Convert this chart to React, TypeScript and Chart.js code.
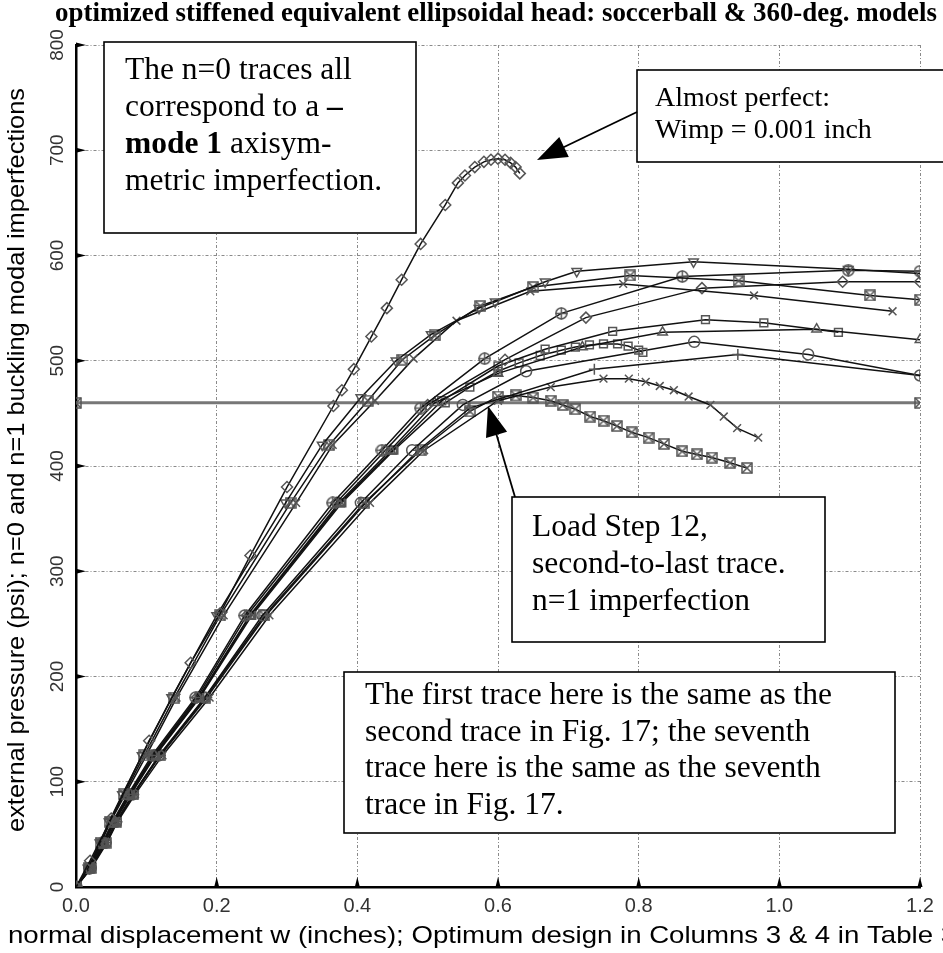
import { useEffect, useRef } from 'react';
import { Chart, registerables } from 'chart.js';

Chart.register(...registerables);

type Pt = [number, number];

const xTicks = [0, 0.2, 0.4, 0.6, 0.8, 1.0, 1.2];
const yTicks = [0, 100, 200, 300, 400, 500, 600, 700, 800];

const titleText = 'optimized stiffened equivalent ellipsoidal head: soccerball & 360-deg. models';
const xTitle = 'normal displacement w (inches); Optimum design in Columns 3 & 4 in Table 3';
const yTitle = 'external pressure (psi); n=0 and n=1 buckling modal imperfections';

// n=0 "almost perfect" trace
const diamondN0: Pt[] = [[0,0],[0.02,25],[0.05,65],[0.104,139],[0.163,213],[0.205,260],[0.248,315],[0.3,380],[0.366,457],[0.378,472],[0.395,492],[0.42,523],[0.442,550],[0.463,577],[0.49,611],[0.525,648],[0.543,669],[0.553,676],[0.567,684],[0.58,689],[0.59,691],[0.6,692],[0.61,691],[0.618,688],[0.625,684],[0.631,678]];
// upper group
const triDownU: Pt[] = [[0,0],[0.017,18],[0.034,42],[0.047,62],[0.066,88],[0.094,125],[0.136,180],[0.2,258],[0.298,365],[0.35,420],[0.405,465],[0.455,500],[0.505,525],[0.573,550],[0.596,556],[0.667,575],[0.712,585],[0.878,594],[1.098,587],[1.2,583]];
const squareXU: Pt[] = [[0,0],[0.018,18],[0.035,42],[0.048,62],[0.068,88],[0.097,125],[0.14,180],[0.205,258],[0.305,365],[0.36,420],[0.415,462],[0.464,501],[0.51,524],[0.575,552],[0.65,570],[0.788,581],[0.942,576],[1.129,562],[1.2,558]];
const crossU: Pt[] = [[0,0],[0.018,18],[0.036,42],[0.049,62],[0.07,88],[0.1,125],[0.143,180],[0.21,258],[0.313,365],[0.365,420],[0.425,462],[0.48,502],[0.541,538],[0.646,566],[0.778,573],[0.964,562],[1.161,547]];
// middle group
const circlePlusM: Pt[] = [[0,0],[0.019,18],[0.038,42],[0.052,62],[0.074,88],[0.108,125],[0.17,180],[0.24,258],[0.365,365],[0.435,415],[0.49,455],[0.581,502],[0.69,545],[0.862,580],[1.098,586],[1.2,585]];
const diamondM: Pt[] = [[0,0],[0.019,18],[0.038,42],[0.053,62],[0.075,88],[0.11,125],[0.172,180],[0.243,258],[0.37,365],[0.44,415],[0.5,458],[0.61,501],[0.725,541],[0.89,569],[1.09,575],[1.2,575]];
const triM: Pt[] = [[0,0],[0.02,18],[0.039,42],[0.054,62],[0.076,88],[0.111,125],[0.174,180],[0.247,258],[0.374,365],[0.447,415],[0.51,460],[0.6,488],[0.72,513],[0.834,527],[1.053,530],[1.2,520]];
const squareM: Pt[] = [[0,0],[0.02,18],[0.039,42],[0.054,62],[0.077,88],[0.112,125],[0.175,180],[0.248,258],[0.376,365],[0.45,415],[0.52,462],[0.6,495],[0.667,511],[0.763,528],[0.895,539],[0.978,536],[1.084,527]];
const denseSquareM: Pt[] = [[0,0],[0.02,18],[0.04,42],[0.055,62],[0.078,88],[0.113,125],[0.176,180],[0.25,258],[0.378,365],[0.452,415],[0.525,460],[0.56,475],[0.6,490],[0.63,498],[0.66,505],[0.69,510],[0.71,513],[0.73,515],[0.75,516],[0.77,516],[0.785,514],[0.8,510],[0.806,508]];
// lower group
const circleL: Pt[] = [[0,0],[0.021,18],[0.042,42],[0.057,62],[0.081,88],[0.118,125],[0.183,180],[0.265,258],[0.405,365],[0.478,415],[0.55,458],[0.64,490],[0.879,518],[1.041,506],[1.2,486]];
const plusL: Pt[] = [[0,0],[0.021,18],[0.043,42],[0.058,62],[0.082,88],[0.12,125],[0.186,180],[0.27,258],[0.412,365],[0.487,415],[0.56,455],[0.737,492],[0.941,506],[1.2,486]];
const crossL: Pt[] = [[0,0],[0.022,18],[0.044,42],[0.059,62],[0.084,88],[0.123,125],[0.19,180],[0.275,258],[0.418,365],[0.495,415],[0.6,462],[0.675,475],[0.75,483],[0.786,483],[0.81,480],[0.83,476],[0.85,472],[0.871,466],[0.902,458],[0.921,447],[0.94,436],[0.97,427]];
const squareXL: Pt[] = [[0,0],[0.021,18],[0.042,42],[0.057,62],[0.081,88],[0.119,125],[0.184,180],[0.268,258],[0.41,365],[0.49,415],[0.56,452],[0.6,466],[0.625,467],[0.65,465],[0.675,462],[0.692,458],[0.71,454],[0.731,447],[0.75,443],[0.769,438],[0.79,432],[0.814,427],[0.836,421],[0.862,414],[0.883,411],[0.904,408],[0.93,403],[0.954,398]];
// horizontal reference line
const refLine: Pt[] = [[0,460],[1.2,460]];

const serif = '"Liberation Serif", "Times New Roman", serif';
const sans = '"Liberation Sans", Arial, sans-serif';

function makeMarker(kind: string, size: number, color: string) {
  const c = document.createElement('canvas');
  c.width = size; c.height = size;
  const g = c.getContext('2d') as CanvasRenderingContext2D;
  g.strokeStyle = color; g.lineWidth = 1.5;
  const m = size / 2, r = size / 2 - 1;
  if (kind === 'circlePlus') {
    g.beginPath(); g.arc(m, m, r, 0, Math.PI * 2); g.stroke();
    g.beginPath(); g.moveTo(m, 0.5); g.lineTo(m, size - 0.5); g.moveTo(0.5, m); g.lineTo(size - 0.5, m); g.stroke();
  } else {
    g.strokeRect(1, 1, size - 2, size - 2);
    g.beginPath(); g.moveTo(1, 1); g.lineTo(size - 1, size - 1); g.moveTo(size - 1, 1); g.lineTo(1, size - 1); g.stroke();
  }
  return c;
}

function arrow(ctx: CanvasRenderingContext2D, x0: number, y0: number, x1: number, y1: number) {
  const len = 30, hw = 11;
  const a = Math.atan2(y1 - y0, x1 - x0);
  ctx.beginPath(); ctx.moveTo(x0, y0); ctx.lineTo(x1 - (len - 4) * Math.cos(a), y1 - (len - 4) * Math.sin(a)); ctx.stroke();
  ctx.beginPath();
  ctx.moveTo(x1, y1);
  ctx.lineTo(x1 - len * Math.cos(a) + hw * Math.sin(a), y1 - len * Math.sin(a) - hw * Math.cos(a));
  ctx.lineTo(x1 - len * Math.cos(a) - hw * Math.sin(a), y1 - len * Math.sin(a) + hw * Math.cos(a));
  ctx.closePath(); ctx.fill();
}

type Seg = { t: string; b?: boolean };

function textBox(ctx: CanvasRenderingContext2D, box: [number, number, number, number], lines: Seg[][], x: number, y0: number, dy: number, size: number) {
  const [l, t, r, b] = box;
  ctx.fillStyle = '#fff';
  ctx.fillRect(l, t, r - l, b - t);
  ctx.strokeStyle = '#000'; ctx.lineWidth = 1.6;
  ctx.strokeRect(l, t, r - l, b - t);
  ctx.fillStyle = '#000';
  ctx.textAlign = 'left'; ctx.textBaseline = 'alphabetic';
  lines.forEach((segs, i) => {
    let cx = x;
    segs.forEach((s) => {
      ctx.font = (s.b ? 'bold ' : '') + size + 'px ' + serif;
      ctx.fillText(s.t, cx, y0 + i * dy);
      cx += ctx.measureText(s.t).width;
    });
  });
}

const overlay = {
  id: 'overlay',
  afterDraw(chart: any) {
    const ctx: CanvasRenderingContext2D = chart.ctx;
    const xs = chart.scales.x, ys = chart.scales.y;
    const ca = chart.chartArea;
    ctx.save();
    // inward tick marks
    ctx.fillStyle = '#000';
    xTicks.slice(1).forEach((v) => {
      const px = xs.getPixelForValue(v);
      ctx.beginPath(); ctx.moveTo(px - 2.5, ca.bottom); ctx.lineTo(px + 2.5, ca.bottom); ctx.lineTo(px, ca.bottom - 10); ctx.closePath(); ctx.fill();
    });
    yTicks.slice(1).forEach((v) => {
      const py = ys.getPixelForValue(v);
      ctx.beginPath(); ctx.moveTo(ca.left, py - 2.5); ctx.lineTo(ca.left, py + 2.5); ctx.lineTo(ca.left + 10, py); ctx.closePath(); ctx.fill();
    });
    // title
    ctx.fillStyle = '#000';
    ctx.font = 'bold 27px ' + serif;
    ctx.textAlign = 'left'; ctx.textBaseline = 'alphabetic';
    let w = ctx.measureText(titleText).width;
    ctx.save(); ctx.translate(55, 21); ctx.scale(882 / w, 1); ctx.fillText(titleText, 0, 0); ctx.restore();
    // x title
    ctx.font = '24px ' + sans;
    w = ctx.measureText(xTitle).width;
    ctx.save(); ctx.translate(8, 943); ctx.scale(948 / w, 1); ctx.fillText(xTitle, 0, 0); ctx.restore();
    // y title
    w = ctx.measureText(yTitle).width;
    ctx.save(); ctx.translate(24, 460); ctx.rotate(-Math.PI / 2); ctx.scale(744 / w, 1); ctx.textAlign = 'center'; ctx.fillText(yTitle, 0, 0); ctx.restore();
    // annotation boxes
    textBox(ctx, [104, 42, 416, 233], [[{ t: 'The n=0 traces all' }], [{ t: 'correspond to a ' }, { t: '–', b: true }], [{ t: 'mode 1', b: true }, { t: ' axisym-' }], [{ t: 'metric imperfection.' }]], 125, 79, 37, 31.5);
    textBox(ctx, [637, 70, 950, 162], [[{ t: 'Almost perfect:' }], [{ t: 'Wimp = 0.001 inch' }]], 655, 106, 32, 28);
    textBox(ctx, [512, 497, 825, 642], [[{ t: 'Load Step 12,' }], [{ t: 'second-to-last trace.' }], [{ t: 'n=1 imperfection' }]], 532, 536, 37, 31.5);
    textBox(ctx, [344, 672, 895, 833], [[{ t: 'The first trace here is the same as the' }], [{ t: 'second trace in Fig. 17; the seventh' }], [{ t: 'trace here is the same as the seventh' }], [{ t: 'trace in Fig. 17.' }]], 365, 704, 36.5, 31.5);
    // arrows
    ctx.strokeStyle = '#000'; ctx.fillStyle = '#000'; ctx.lineWidth = 1.8;
    arrow(ctx, 637, 112, 537, 160);
    arrow(ctx, 515, 497, 488, 406);
    ctx.restore();
  },
};

export default function App() {
  const ref = useRef<HTMLCanvasElement | null>(null);
  useEffect(() => {
    const canvas = ref.current;
    if (!canvas) return;
    const circlePlus = makeMarker('circlePlus', 13, '#555');
    const squareX = makeMarker('squareX', 12, '#555');
    const series: { d: Pt[]; s: any; rot?: number }[] = [
      { d: diamondN0, s: 'rectRot' },
      { d: triDownU, s: 'triangle', rot: 180 },
      { d: squareXU, s: squareX },
      { d: crossU, s: 'crossRot' },
      { d: circlePlusM, s: circlePlus },
      { d: diamondM, s: 'rectRot' },
      { d: triM, s: 'triangle' },
      { d: squareM, s: 'rect' },
      { d: denseSquareM, s: 'rect' },
      { d: circleL, s: 'circle' },
      { d: plusL, s: 'cross' },
      { d: crossL, s: 'crossRot' },
      { d: squareXL, s: squareX },
    ];
    const datasets: any[] = series.map((sr) => ({
      data: sr.d.map(([x, y]) => ({ x, y })),
      borderColor: '#111',
      borderWidth: 1.5,
      pointStyle: sr.s,
      pointRotation: sr.rot || 0,
      pointRadius: 5.5,
      pointBorderColor: '#555',
      pointBackgroundColor: 'rgba(0,0,0,0)',
      pointBorderWidth: 1.5,
      fill: false,
      tension: 0,
    }));
    datasets.push({
      data: refLine.map(([x, y]) => ({ x, y })),
      borderColor: '#777',
      borderWidth: 3,
      pointStyle: squareX,
      pointRadius: 6,
      fill: false,
    });
    const chart = new Chart(canvas, {
      type: 'line',
      data: { datasets },
      options: {
        animation: false,
        responsive: false,
        layout: { padding: { left: 0, right: 23, top: 45, bottom: 0 } },
        plugins: { legend: { display: false }, tooltip: { enabled: false }, title: { display: false } },
        scales: {
          x: {
            type: 'linear', min: 0, max: 1.2,
            afterBuildTicks: (s: any) => { s.ticks = xTicks.map((v) => ({ value: v })); },
            afterFit: (s: any) => { s.height = 66; },
            ticks: { callback: (v: any) => Number(v).toFixed(1), font: { family: sans, size: 20 }, color: '#333', padding: 7, maxRotation: 0 },
            grid: { color: '#8a8a8a', lineWidth: 1, drawTicks: false },
            border: { display: true, color: '#000', width: 2.5, dash: [3, 2, 1, 2] },
          },
          y: {
            type: 'linear', min: 0, max: 800,
            afterBuildTicks: (s: any) => { s.ticks = yTicks.map((v) => ({ value: v })); },
            afterFit: (s: any) => { s.width = 76; },
            ticks: { minRotation: 90, maxRotation: 90, crossAlign: 'center', padding: 2, font: { family: sans, size: 19 }, color: '#333' },
            grid: { color: '#8a8a8a', lineWidth: 1, drawTicks: false },
            border: { display: true, color: '#000', width: 2.5, dash: [3, 2, 1, 2] },
          },
        },
      } as any,
      plugins: [overlay],
    });
    return () => chart.destroy();
  }, []);
  return (
    <div style={{ position: 'absolute', left: 0, top: 0, width: 943, height: 953, background: '#fff' }}>
      <canvas ref={ref} width={943} height={953} style={{ display: 'block' }} />
    </div>
  );
}
